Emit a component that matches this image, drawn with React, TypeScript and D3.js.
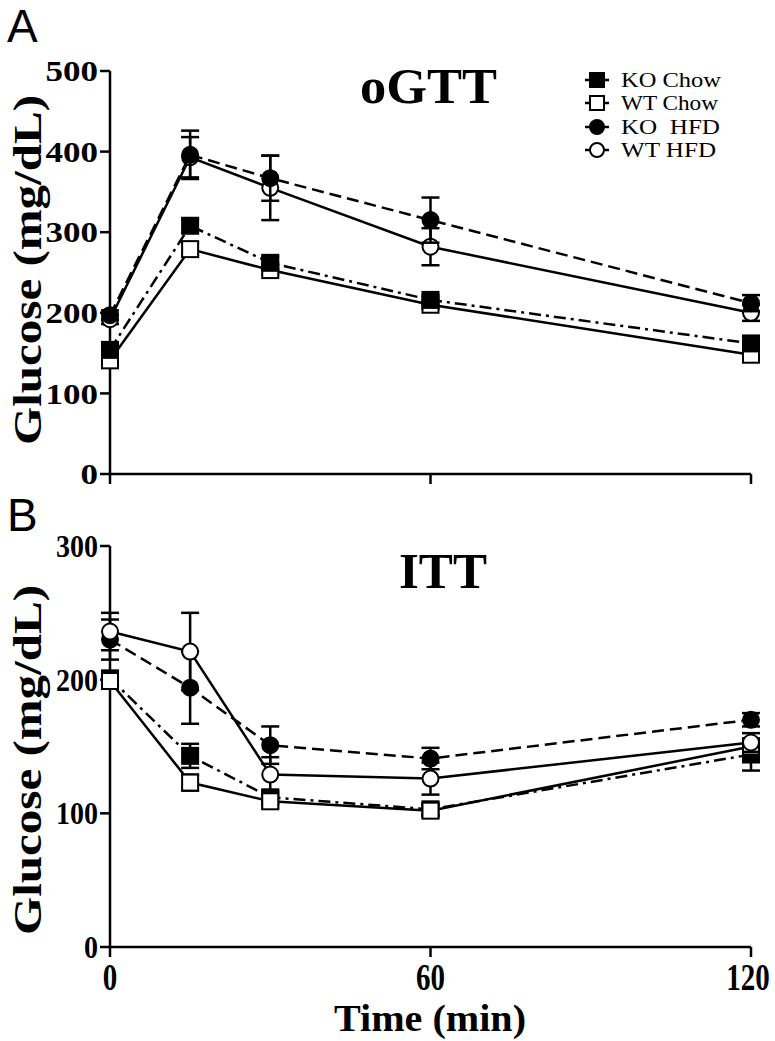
import React from "react";
import * as d3 from "d3";

const times = [0, 15, 30, 60, 120];
const xTicks = [0, 60, 120];
const yTicksA = [0, 100, 200, 300, 400, 500];
const yTicksB = [0, 100, 200, 300];

const seriesNames = ["KO Chow", "WT Chow", "KO  HFD", "WT HFD"];

// Panel A: oGTT
const koChowA = [154, 308, 262, 216, 162];
const koChowAErr = [6, 8, 8, 6, 6];
const wtChowA = [141, 279, 253, 210, 148];
const wtChowAErr = [5, 8, 6, 5, 5];
const koHfdA = [197, 396, 367, 315, 212];
const koHfdAErr = [6, 30, 28, 28, 10];
const wtHfdA = [192, 393, 355, 282, 200];
const wtHfdAErr = [6, 25, 40, 23, 10];

// Panel B: ITT
const koChowB = [201, 143, 112, 103, 144];
const koChowBErr = [5, 9, 5, 4, 12];
const wtChowB = [199, 123, 109, 102, 150];
const wtChowBErr = [4, 6, 5, 4, 5];
const koHfdB = [230, 194, 151, 141, 170];
const koHfdBErr = [15, 27, 14, 8, 5];
const wtHfdB = [236, 221, 129, 126, 153];
const wtHfdBErr = [14, 29, 13, 12, 7];

type Style = { marker: "square" | "circle"; filled: boolean; dash: string | null };
const styles: Style[] = [
  { marker: "square", filled: true, dash: "12,5,3,5" },
  { marker: "square", filled: false, dash: null },
  { marker: "circle", filled: true, dash: "12,6" },
  { marker: "circle", filled: false, dash: null },
];

const FONT = "'Liberation Serif', 'Times New Roman', serif";
const SANS = "'Liberation Sans', Arial, sans-serif";

function Marker({ x, y, st, size = 16 }: { x: number; y: number; st: Style; size?: number }) {
  const fill = st.filled ? "#000" : "#fff";
  if (st.marker === "square") {
    return <rect x={x - size / 2} y={y - size / 2} width={size} height={size} fill={fill} stroke="#000" strokeWidth={2} />;
  }
  return <circle cx={x} cy={y} r={size / 2} fill={fill} stroke="#000" strokeWidth={2} />;
}

function Panel({
  data,
  errs,
  order,
  yMax,
  yTicks,
  y0,
  y1,
  showXLabels,
}: {
  data: number[][];
  errs: number[][];
  order: number[];
  yMax: number;
  yTicks: number[];
  y0: number;
  y1: number;
  showXLabels: boolean;
}) {
  const x = d3.scaleLinear().domain([0, 120]).range([110, 751]);
  const y = d3.scaleLinear().domain([0, yMax]).range([y0, y1]);
  const line = d3
    .line<number>()
    .x((_, i) => x(times[i]))
    .y((d) => y(d));
  const digitW = showXLabels ? 14 : 17.5;
  const tickFont = showXLabels ? 32 : 30;
  return (
    <g>
      <line x1={x(0)} x2={x(0)} y1={y(0) + 1} y2={y(yMax)} stroke="#000" strokeWidth={2.5} />
      <line x1={x(0) - 1} x2={x(120)} y1={y(0)} y2={y(0)} stroke="#000" strokeWidth={2.5} />
      {yTicks.map((t) => (
        <g key={t}>
          <line x1={x(0) - 10} x2={x(0)} y1={y(t)} y2={y(t)} stroke="#000" strokeWidth={2.5} />
          <text
            x={98}
            y={y(t) + tickFont * 0.34}
            textAnchor="end"
            fontFamily={FONT}
            fontWeight="bold"
            fontSize={tickFont}
            textLength={String(t).length * digitW}
            lengthAdjust="spacingAndGlyphs"
          >
            {t}
          </text>
        </g>
      ))}
      {xTicks.map((t) => (
        <g key={t}>
          <line x1={x(t)} x2={x(t)} y1={y(0)} y2={y(0) + 10} stroke="#000" strokeWidth={2.5} />
          {showXLabels && (
            <text
              x={t === 120 ? x(t) - 3 : x(t)}
              y={990}
              textAnchor="middle"
              fontFamily={FONT}
              fontWeight="bold"
              fontSize={37}
              textLength={String(t).length * 14.5}
              lengthAdjust="spacingAndGlyphs"
            >
              {t}
            </text>
          )}
        </g>
      ))}
      {order.map((si) => {
        const st = styles[si];
        const vals = data[si];
        const es = errs[si];
        return (
          <g key={si}>
            <path d={line(vals) || ""} fill="none" stroke="#000" strokeWidth={2.5} strokeDasharray={st.dash || undefined} />
            {vals.map((v, i) => (
              <g key={i}>
                <line x1={x(times[i])} x2={x(times[i])} y1={y(v - es[i])} y2={y(v + es[i])} stroke="#000" strokeWidth={2.5} />
                <line x1={x(times[i]) - 9} x2={x(times[i]) + 9} y1={y(v + es[i])} y2={y(v + es[i])} stroke="#000" strokeWidth={2.5} />
                <line x1={x(times[i]) - 9} x2={x(times[i]) + 9} y1={y(v - es[i])} y2={y(v - es[i])} stroke="#000" strokeWidth={2.5} />
              </g>
            ))}
            {vals.map((v, i) => (
              <Marker key={"m" + i} x={x(times[i])} y={y(v)} st={st} />
            ))}
          </g>
        );
      })}
    </g>
  );
}

export default function App() {
  const legendRows = [80, 103, 127, 150];
  const legendLens = [100, 97, 99, 95];
  return (
    <svg width={775} height={1041} style={{ position: "absolute", left: 0, top: 0, background: "#fff" }}>
      <rect width={775} height={1041} fill="#fff" />
      <text x={7} y={42} fontFamily={SANS} fontSize={46}>A</text>
      <text x={7} y={531} fontFamily={SANS} fontSize={46}>B</text>

      <text x={360} y={103} fontFamily={FONT} fontWeight="bold" fontSize={50} textLength={137} lengthAdjust="spacingAndGlyphs">oGTT</text>
      <text x={399} y={588} fontFamily={FONT} fontWeight="bold" fontSize={50} textLength={88} lengthAdjust="spacingAndGlyphs">ITT</text>

      <text transform="translate(41,270) rotate(-90)" textAnchor="middle" fontFamily={FONT} fontWeight="bold" fontSize={41} textLength={350} lengthAdjust="spacingAndGlyphs">Glucose (mg/dL)</text>
      <text transform="translate(41,760) rotate(-90)" textAnchor="middle" fontFamily={FONT} fontWeight="bold" fontSize={41} textLength={350} lengthAdjust="spacingAndGlyphs">Glucose (mg/dL)</text>

      <text x={430} y={1031} textAnchor="middle" fontFamily={FONT} fontWeight="bold" fontSize={38} textLength={192} lengthAdjust="spacingAndGlyphs">Time (min)</text>

      <Panel
        data={[koChowA, wtChowA, koHfdA, wtHfdA]}
        errs={[koChowAErr, wtChowAErr, koHfdAErr, wtHfdAErr]}
        order={[1, 3, 0, 2]}
        yMax={500}
        yTicks={yTicksA}
        y0={474}
        y1={71}
        showXLabels={false}
      />
      <Panel
        data={[koChowB, wtChowB, koHfdB, wtHfdB]}
        errs={[koChowBErr, wtChowBErr, koHfdBErr, wtHfdBErr]}
        order={[0, 2, 1, 3]}
        yMax={300}
        yTicks={yTicksB}
        y0={947}
        y1={546}
        showXLabels={true}
      />

      {seriesNames.map((name, i) => (
        <g key={name}>
          <line x1={585} x2={609} y1={legendRows[i]} y2={legendRows[i]} stroke="#000" strokeWidth={2.5} />
          <Marker x={597} y={legendRows[i]} st={styles[i]} size={14} />
          <text
            x={621}
            y={legendRows[i] + 7}
            fontFamily={FONT}
            fontSize={21}
            textLength={legendLens[i]}
            lengthAdjust="spacingAndGlyphs"
            style={{ whiteSpace: "pre" }}
          >
            {name}
          </text>
        </g>
      ))}
    </svg>
  );
}
